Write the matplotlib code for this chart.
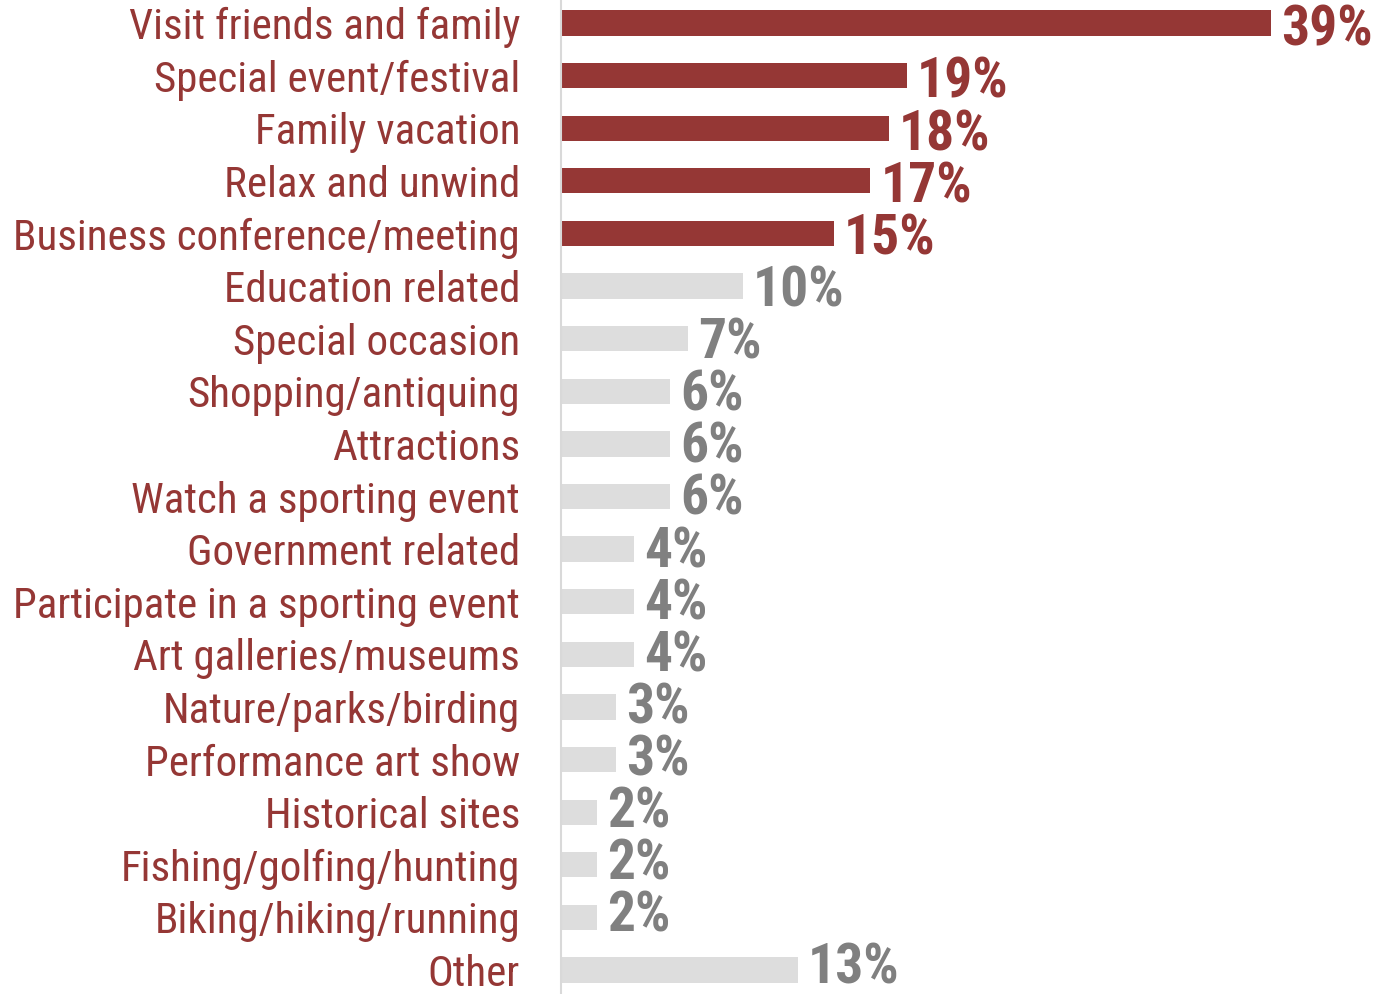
import matplotlib

matplotlib.use("Agg")

import matplotlib.pyplot as plt

categories = [
    "Visit friends and family",
    "Special event/festival",
    "Family vacation",
    "Relax and unwind",
    "Business conference/meeting",
    "Education related",
    "Special occasion",
    "Shopping/antiquing",
    "Attractions",
    "Watch a sporting event",
    "Government related",
    "Participate in a sporting event",
    "Art galleries/museums",
    "Nature/parks/birding",
    "Performance art show",
    "Historical sites",
    "Fishing/golfing/hunting",
    "Biking/hiking/running",
    "Other",
]
shares = [39, 19, 18, 17, 15, 10, 7, 6, 6, 6, 4, 4, 4, 3, 3, 2, 2, 2, 13]
highlight_count = 5

RED = "#953735"
BAR_GREY = "#DDDDDD"
TEXT_GREY = "#808080"

plt.rcParams["font.family"] = ["Roboto Condensed", "DejaVu Sans"]

W, H = 1391, 994
fig = plt.figure(figsize=(W / 100, H / 100), dpi=100)
left, right = 561 / W, 1271 / W
ax = fig.add_axes([left, 0, right - left, 1])

positions = list(range(len(categories)))
colors = [RED if i < highlight_count else BAR_GREY for i in positions]
ax.barh(positions, shares, height=0.48, color=colors)

# value labels sit a touch low at the top and a touch high at the bottom
for i, value in enumerate(shares):
    ax.text(
        value + 0.55,
        i + 0.15 - 0.0095 * i,
        f"{value}%",
        va="center",
        ha="left",
        fontsize=40,
        fontweight="bold",
        color=RED if i < highlight_count else TEXT_GREY,
        clip_on=False,
    )

ax.set_xlim(0, 39)
ax.set_ylim(18.456, -0.437)
ax.set_yticks(positions, labels=categories)
ax.tick_params(axis="y", length=0, pad=29.5, labelsize=31, labelcolor=RED)
ax.set_xticks([])
for side in ("top", "right", "bottom"):
    ax.spines[side].set_visible(False)
ax.spines["left"].set_color("#D9D9D9")
ax.spines["left"].set_linewidth(1.5)
ax.patch.set_alpha(0)

fig.savefig("out.png", dpi=100)
